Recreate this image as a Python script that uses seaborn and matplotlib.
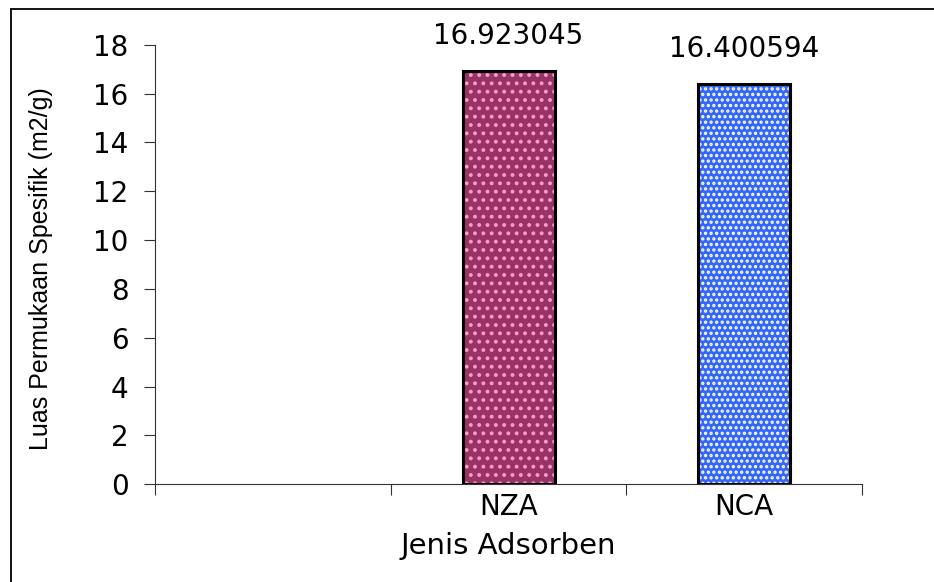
import pandas as pd
import seaborn as sns
import matplotlib.pyplot as plt
from matplotlib.patches import Rectangle
from matplotlib.lines import Line2D

### data
categories = ["NZA", "NCA"]
values = [16.923045, 16.400594]
value_labels = ["16.923045", "16.400594"]
order = ["", "NZA", "NCA"]   # first slot of the axis is empty
y_ticks = [0, 2, 4, 6, 8, 10, 12, 14, 16, 18]

bar_colors = {"NZA": "#993366", "NCA": "#3366FF"}
dot_colors = {"NZA": "#FF99CC", "NCA": "#FFFFCC"}
hatches = {"NZA": "..", "NCA": "..."}

df = pd.DataFrame({"jenis": categories, "luas": values})

sns.set_style("white")
plt.rcParams["font.family"] = ["DejaVu Sans"]
plt.rcParams["text.color"] = "black"
plt.rcParams["xtick.color"] = "black"
plt.rcParams["ytick.color"] = "black"
plt.rcParams["axes.labelcolor"] = "black"
plt.rcParams["hatch.linewidth"] = 1.6

fig = plt.figure(figsize=(9.34, 5.82), dpi=100)
ax = fig.add_axes([0.166, 0.168, 0.757, 0.755])

sns.barplot(data=df, x="jenis", y="luas", order=order, width=0.39,
            color="#993366", errorbar=None, ax=ax)

### colour + pattern per bar, then a black outline on top
for p in list(ax.patches):
    cat = order[int(round(p.get_x() + p.get_width() / 2))]
    p.set_facecolor(bar_colors[cat])
    p.set_edgecolor(dot_colors[cat])
    p.set_hatch(hatches[cat])
    p.set_linewidth(0)
    ax.add_patch(Rectangle(p.get_xy(), p.get_width(), p.get_height(),
                           fill=False, edgecolor="black", linewidth=2.2, zorder=3))

ax.bar_label(ax.containers[0], labels=value_labels, padding=15, fontsize=20)

ax.set_ylim(0, 18)
ax.set_yticks(y_ticks)
ax.set_xlim(-0.5, 2.5)
ax.set_xticks([-0.5, 0.5, 1.5, 2.5])
ax.set_xticklabels([])
ax.set_xticks([0, 1, 2], minor=True)
ax.set_xticklabels(order, minor=True, fontsize=20)
ax.tick_params(axis="x", which="minor", length=0, pad=6)
ax.tick_params(axis="x", which="major", length=8, width=0.8, color="#333333", direction="out", bottom=True)
ax.tick_params(axis="y", length=8, width=0.8, color="#333333", direction="out", left=True, labelsize=20, pad=11)

ax.set_xlabel("Jenis Adsorben", fontsize=21, labelpad=8)
ax.set_ylabel("Luas Permukaan Spesifik (m2/g)", fontsize=18, family="Liberation Sans")
ax.yaxis.set_label_coords(-0.145, 0.49)

sns.despine(ax=ax)
for s in ["left", "bottom"]:
    ax.spines[s].set_color("#333333")
    ax.spines[s].set_linewidth(0.8)

### chart-area frame: only the top and left edges fall inside the picture
fig.add_artist(Line2D([0.0113, 0.0113], [0.0, 0.9845], transform=fig.transFigure,
                      color="black", linewidth=1.3))
fig.add_artist(Line2D([0.0113, 1.0], [0.9845, 0.9845], transform=fig.transFigure,
                      color="black", linewidth=1.3))

plt.savefig("out.png", dpi=100)
